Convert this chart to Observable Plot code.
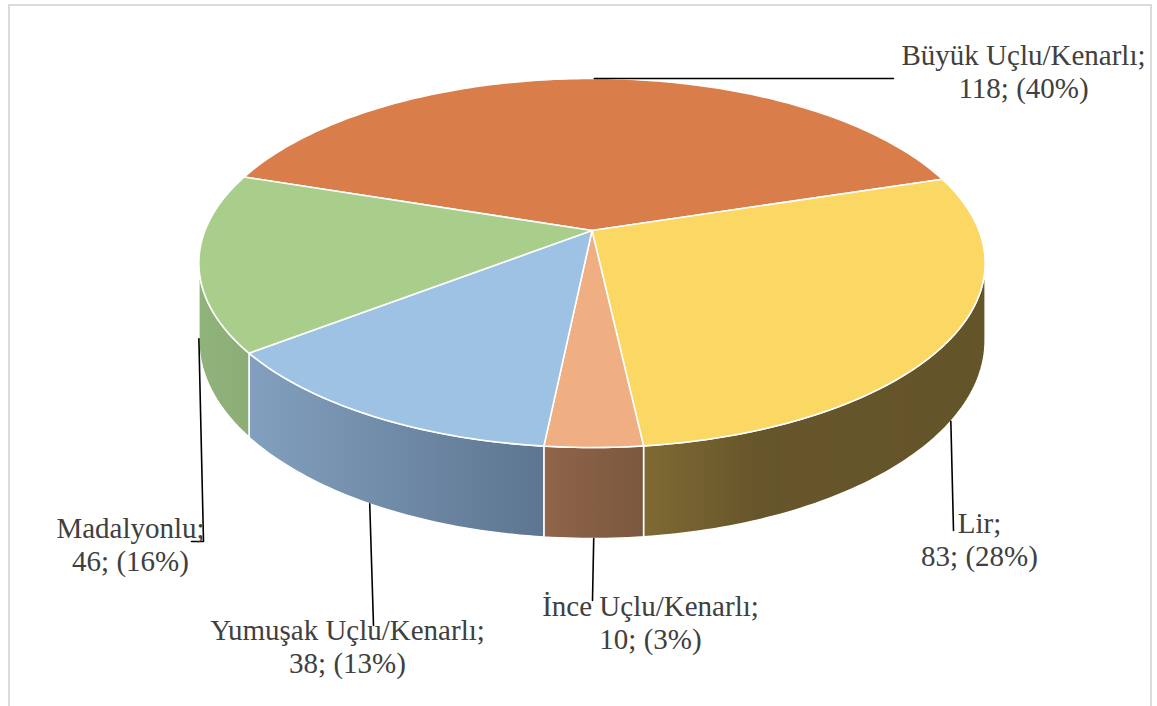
<!DOCTYPE html>
<html><head><meta charset="utf-8">
<script src="https://cdn.jsdelivr.net/npm/d3@7"></script>
<script src="https://cdn.jsdelivr.net/npm/@observablehq/plot@0.6"></script>
<style>
body{margin:0;background:#fff;}
#wrap{position:relative;width:1157px;height:706px;overflow:hidden;}
#frame{position:absolute;left:8px;top:4px;width:1144px;height:760px;border:2px solid #dcdcdc;box-sizing:border-box;pointer-events:none;}
#chart{position:absolute;left:0;top:0;}
</style></head><body><div id="wrap"><div id="chart"></div><div id="frame"></div></div>
<script>
// ---- data ----
const categories = ["Büyük Uçlu/Kenarlı", "Lir", "İnce Uçlu/Kenarlı", "Yumuşak Uçlu/Kenarlı", "Madalyonlu"];
const counts = [118, 83, 10, 38, 46];
const percents = [40, 28, 3, 13, 16];

// ---- styles ----
const topColors = ["#D97D4B", "#FBD764", "#F0AF82", "#9DC2E3", "#A9CD8A"];
const sideStops = [
  [[0, "#B0653C"], [1, "#9A5734"]],
  [[0, "#7F6A33"], [0.33, "#67562B"], [1, "#645429"]],
  [[0, "#906549"], [1, "#7A573F"]],
  [[0, "#82A0BE"], [1, "#5D7590"]],
  [[0, "#90B37B"], [1, "#8CAE76"]]
];

// ---- layout ----
const W = 1157, H = 706;
const cx = 591.5, cy = 230, ra = 387, rb = 178.8, kp = 0.176, depthT = 75;
const startDeg = -71.6;
const labelPos = [[1023, 62], [979, 530], [650, 613], [347, 637], [130, 535]];
const leaderEnds = [[[893, 78]], [[953, 530]], [[592, 600]], [[373, 625]], [[203, 541], [191, 541]]];
const fontSize = 29, lineH = 33;

const table = categories.map((c, i) => ({name: c, count: counts[i], pct: percents[i], i}));
const s0 = startDeg * Math.PI / 180;
const arcs = d3.pie().sort(null).value(d => d.count).startAngle(s0).endAngle(s0 + 2 * Math.PI)(table);

function proj(t, depth) {
  const u = Math.sin(t), v = -Math.cos(t), s = 1 / (1 - kp * v);
  return {x: cx + ra * u * s, y: cy + rb * v * s + depth * depthT * s};
}
const vis0 = Math.acos(-kp), vis1 = 2 * Math.PI - vis0;

const tops = [], walls = [], leaders = [], labels = [];
arcs.forEach(d => {
  const i = d.data.i, a0 = d.startAngle, a1 = d.endAngle;
  const n = Math.max(2, Math.ceil((a1 - a0) / (Math.PI / 180)));
  tops.push({x: cx, y: cy, z: i, fill: topColors[i]});
  for (let j = 0; j <= n; j++) {
    const p = proj(a0 + (a1 - a0) * j / n, 0);
    tops.push({x: p.x, y: p.y, z: i, fill: topColors[i]});
  }
  const w0 = Math.max(a0, vis0), w1 = Math.min(a1, vis1);
  if (w1 > w0) {
    const m = Math.max(2, Math.ceil((w1 - w0) / (Math.PI / 180)));
    for (let j = 0; j <= m; j++) {
      const p = proj(w0 + (w1 - w0) * j / m, 0);
      walls.push({x: p.x, y: p.y, z: i, fill: `url(#side${i})`});
    }
    for (let j = m; j >= 0; j--) {
      const p = proj(w0 + (w1 - w0) * j / m, 1);
      walls.push({x: p.x, y: p.y, z: i, fill: `url(#side${i})`});
    }
  }
  const mid = (a0 + a1) / 2;
  const front = -Math.cos(mid) > 0;
  const st = proj(mid, front ? 1 : 0);
  leaders.push({x: st.x, y: st.y, z: i});
  leaderEnds[i].forEach(([x, y]) => leaders.push({x, y, z: i}));
  labels.push({x: labelPos[i][0], y: labelPos[i][1] - 0.71 * fontSize,
    text: `${d.data.name};\n${d.data.count}; (${d.data.pct}%)`});
});

const plot = Plot.plot({
  width: W, height: H,
  margin: 0,
  x: {domain: [0, W], range: [0, W], axis: null},
  y: {domain: [0, H], range: [0, H], axis: null},
  color: {type: "identity"},
  marks: [
    Plot.line(walls, {x: "x", y: "y", z: "z", fill: "fill", stroke: "white", strokeWidth: 1.5, curve: "linear-closed", strokeLinejoin: "round"}),
    Plot.line(tops, {x: "x", y: "y", z: "z", fill: "fill", stroke: "white", strokeWidth: 1.6, curve: "linear-closed", strokeLinejoin: "round"}),
    Plot.line(leaders, {x: "x", y: "y", z: "z", stroke: "#000", strokeWidth: 1.6}),
    Plot.text(labels, {x: "x", y: "y", text: "text", lineAnchor: "top", textAnchor: "middle",
      fontFamily: "Liberation Serif", fontSize: fontSize, lineHeight: lineH / fontSize, fill: "#404040"})
  ]
});

const svg = d3.select(plot);
const defs = svg.insert("defs", ":first-child");
categories.forEach((c, i) => {
  const g = defs.append("linearGradient").attr("id", `side${i}`)
    .attr("x1", "0").attr("x2", "1").attr("y1", "0").attr("y2", "0");
  sideStops[i].forEach(([o, col]) => g.append("stop").attr("offset", o).attr("stop-color", col));
});
document.getElementById("chart").appendChild(plot);
</script>
</body></html>
